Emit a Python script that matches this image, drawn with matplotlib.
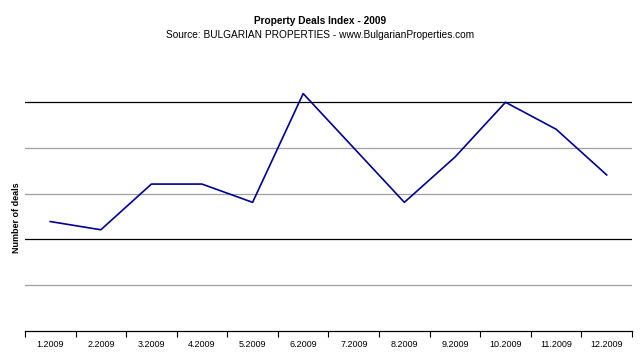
import matplotlib
matplotlib.use("Agg")
import matplotlib.pyplot as plt

# Monthly index values (arbitrary units = gridline steps)
months = ["1.2009", "2.2009", "3.2009", "4.2009", "5.2009", "6.2009",
          "7.2009", "8.2009", "9.2009", "10.2009", "11.2009", "12.2009"]
deals = [2.39, 2.21, 3.21, 3.21, 2.81, 5.19, 4.0, 2.81, 3.8, 5.0, 4.41, 3.41]

grid_levels = [1, 2, 3, 4, 5]
grid_colors = ["#a0a0a0", "black", "#a0a0a0", "#a0a0a0", "black"]

plt.rcParams["font.family"] = ["Liberation Sans", "DejaVu Sans"]

fig = plt.figure(figsize=(6.4, 3.53), dpi=100)
ax = fig.add_axes([0.039, 0.063, 0.9485, 0.712])

x = list(range(1, len(months) + 1))

for lvl, col in zip(grid_levels, grid_colors):
    ax.axhline(lvl, color=col, lw=0.9, zorder=1)

ax.plot(x, deals, color="#000090", lw=1.2, zorder=3)

ax.set_xlim(0.5, len(months) + 0.5)
ax.set_ylim(0, 5.5)

# category labels centered, ticks between categories
ax.set_xticks(x)
ax.set_xticklabels(months, fontsize=6.5)
ax.tick_params(axis="x", which="major", length=0, pad=6.5)
ax.set_xticks([i + 0.5 for i in range(0, len(months) + 1)], minor=True)
ax.tick_params(axis="x", which="minor", length=4, width=0.8, direction="out")
ax.set_yticks([])

for side in ["top", "right", "left"]:
    ax.spines[side].set_visible(False)
ax.spines["bottom"].set_linewidth(0.9)

ax.set_ylabel("Number of deals", fontsize=6.5, fontweight="bold")
ax.yaxis.set_label_coords(-0.006, 0.45)

fig.text(0.5, 1 - 21 / 353, "Property Deals Index - 2009", ha="center", va="center",
         fontsize=7.3, fontweight="bold")
fig.text(0.5, 1 - 34.5 / 353, "Source: BULGARIAN PROPERTIES - www.BulgarianProperties.com",
         ha="center", va="center", fontsize=7.3)

fig.savefig("out.png", dpi=100)
